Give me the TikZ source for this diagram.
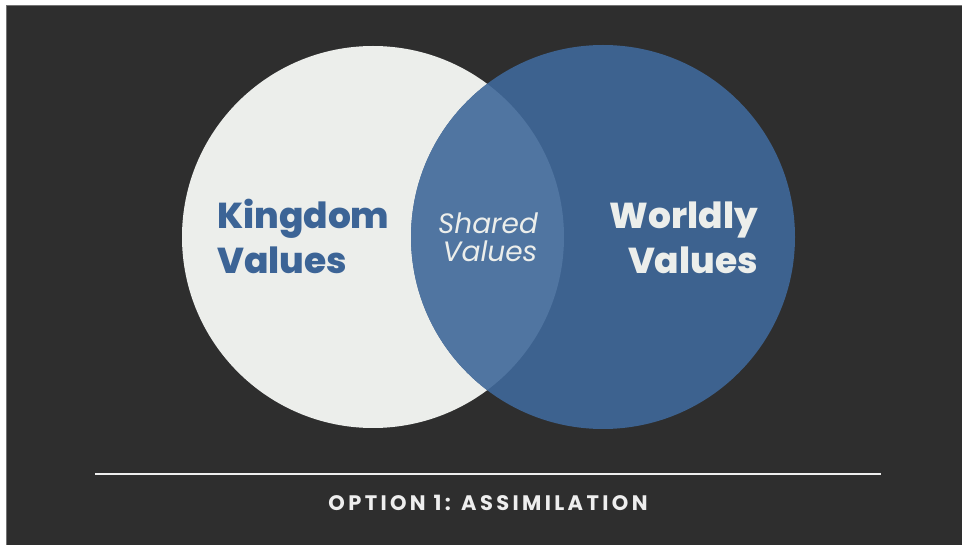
\documentclass[tikz,border=0pt]{standalone}
\usepackage{fontspec}
\setmainfont{Poppins}
\newfontfamily\heavyfont{Poppins ExtraBold}
\definecolor{bgdark}{RGB}{46,46,46}
\definecolor{pale}{RGB}{236,238,235}
\definecolor{wblue}{RGB}{61,98,143}
\definecolor{lens}{RGB}{80,117,161}
\definecolor{kblue}{RGB}{60,100,150}
\definecolor{rulecol}{RGB}{238,238,238}
\tikzset{
  venn/.style={circle, inner sep=0pt, minimum size=#1},
  bigword/.style={font=\fontsize{36}{36}\selectfont\heavyfont, inner sep=0pt},
  lensword/.style={font=\fontsize{28}{28}\selectfont\itshape, text=pale, inner sep=0pt, anchor=base},
}
\begin{document}
\begin{tikzpicture}[x=1pt,y=-1pt]
\useasboundingbox (0,0) rectangle (962,545);
\fill[white] (0,0) rectangle (962,545);
\fill[bgdark] (6,5) rectangle (962,545);
\draw[black!55, line width=0.8pt] (6.5,545) -- (6.5,5.5) -- (962,5.5);
\node[venn=382pt, fill=pale] (kc) at (373,237) {};
\node[venn=384pt, fill=wblue] (wc) at (603,237) {};
\begin{scope}
  \clip (kc.center) circle (191pt);
  \fill[lens] (wc.center) circle (192pt);
\end{scope}
\node[bigword, text=kblue, anchor=base west] (k1) at (217,229) {Kingdom};
\node[bigword, text=kblue, anchor=base west] (k2) at (217,274) {Values};
\node[bigword, text=pale, anchor=base east] (w1) at (758,229) {Worldly};
\node[bigword, text=pale, anchor=base east] (w2) at (758,274) {Values};
\node[lensword, text depth=0pt] (s1) at (488,234) {Shared};
\node[lensword, text height=20pt] (s2) at (490,262) {Values};
\coordinate (rl) at (95,474);
\coordinate (rr) at (881,474);
\draw[rulecol, line width=2pt] (rl) -- (rr);
\node[font=\fontsize{21}{21}\selectfont\bfseries\addfontfeatures{LetterSpace=16}, text=rulecol, anchor=base, inner sep=0pt] (cap) at (488,510) {OPTION 1: ASSIMILATION};
\end{tikzpicture}
\end{document}
